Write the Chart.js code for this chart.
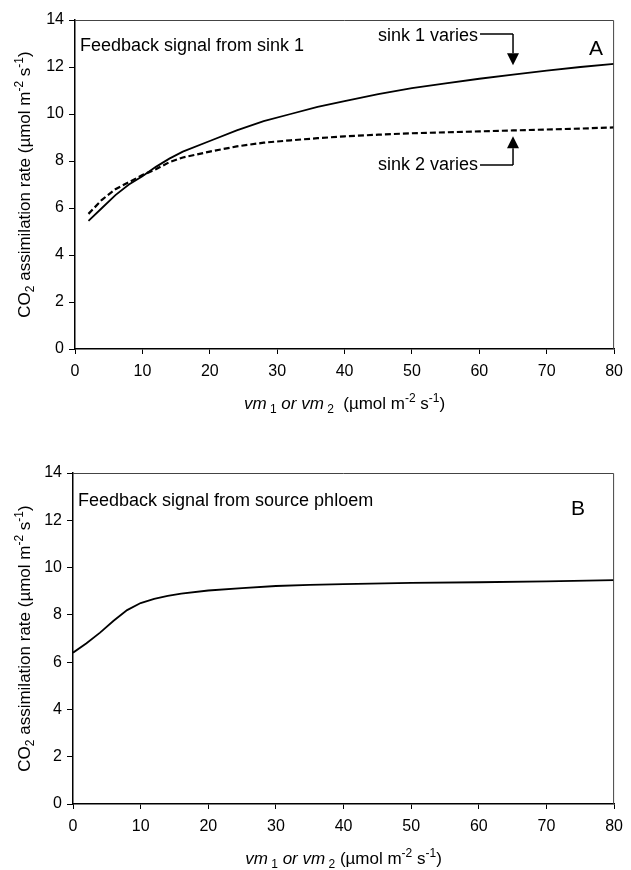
<!DOCTYPE html>
<html>
<head>
<meta charset="utf-8">
<script src="https://cdn.jsdelivr.net/npm/chart.js@4.4.0/dist/chart.umd.min.js"></script>
<style>
  body { margin: 0; background: #fff; }
  .panel { position: absolute; left: 0; width: 631px; height: 435px; }
</style>
</head>
<body>
<div class="panel" style="top:0"><canvas id="chartA" width="631" height="435"></canvas></div>
<div class="panel" style="top:435px"><canvas id="chartB" width="631" height="435"></canvas></div>
<script>
// panel A: feedback signal from sink 1
const xA = [2, 4, 6, 8, 10, 12, 14, 16, 20, 24, 28, 32, 36, 40, 45, 50, 55, 60, 65, 70, 75, 80];
const sink1Varies = [5.45, 6.0, 6.55, 7.0, 7.35, 7.75, 8.1, 8.4, 8.85, 9.3, 9.7, 10.0, 10.3, 10.55, 10.85, 11.1, 11.3, 11.5, 11.68, 11.85, 12.0, 12.13];
const sink2Varies = [5.75, 6.35, 6.8, 7.1, 7.4, 7.65, 7.95, 8.15, 8.4, 8.62, 8.78, 8.88, 8.97, 9.05, 9.12, 9.18, 9.22, 9.26, 9.3, 9.34, 9.38, 9.43];

// panel B: feedback signal from source phloem
const xB = [0, 2, 4, 6, 8, 10, 12, 14, 16, 20, 25, 30, 35, 40, 50, 60, 70, 80];
const phloem = [6.4, 6.8, 7.25, 7.75, 8.2, 8.5, 8.68, 8.8, 8.9, 9.03, 9.13, 9.22, 9.27, 9.3, 9.35, 9.38, 9.42, 9.47];

const yTicks = [0, 2, 4, 6, 8, 10, 12, 14];
const xTicks = [0, 10, 20, 30, 40, 50, 60, 70, 80];

const FONT = '"Liberation Sans", Arial, sans-serif';

function toPoints(xs, ys) {
    return xs.map((x, i) => ({ x: x, y: ys[i] }));
}

function fontFor(p, size) {
    const s = (p.sup || p.sub) ? Math.round(size * 0.68) : size;
    return (p.it ? 'italic ' : '') + s + 'px ' + FONT;
}

// draw text with sub/superscripts, centred on x
function drawRich(ctx, parts, x, y, size) {
    let total = 0;
    parts.forEach(p => { ctx.font = fontFor(p, size); total += ctx.measureText(p.t).width; });
    let cx = x - total / 2;
    ctx.textAlign = 'left';
    ctx.textBaseline = 'alphabetic';
    parts.forEach(p => {
        ctx.font = fontFor(p, size);
        const dy = p.sup ? -size * 0.42 : (p.sub ? size * 0.22 : 0);
        ctx.fillText(p.t, cx, y + dy);
        cx += ctx.measureText(p.t).width;
    });
}

const yTitle = [
    { t: 'CO' }, { t: '2', sub: true }, { t: ' assimilation rate (µmol m' },
    { t: '-2', sup: true }, { t: ' s' }, { t: '-1', sup: true }, { t: ')' }
];
function xTitle(gap) {
    return [
        { t: 'vm', it: true }, { t: ' 1', sub: true }, { t: ' or ', it: true },
        { t: 'vm', it: true }, { t: ' 2', sub: true }, { t: gap + '(µmol m' },
        { t: '-2', sup: true }, { t: ' s' }, { t: '-1', sup: true }, { t: ')' }
    ];
}

function arrow(ctx, x, yFrom, yTip) {
    const dir = yTip > yFrom ? 1 : -1;
    const base = yTip - dir * 12;
    ctx.beginPath();
    ctx.moveTo(x, yFrom);
    ctx.lineTo(x, base);
    ctx.stroke();
    ctx.beginPath();
    ctx.moveTo(x - 6, base);
    ctx.lineTo(x + 6, base);
    ctx.lineTo(x, yTip);
    ctx.closePath();
    ctx.fill();
}

const panelPlugin = {
    id: 'panel',
    afterDraw(chart) {
        const o = chart.options.plugins.panel;
        const ctx = chart.ctx;
        const a = chart.chartArea;
        const xs = chart.scales.x;
        const ys = chart.scales.y;
        ctx.save();
        // frame top / right
        ctx.strokeStyle = '#444';
        ctx.lineWidth = 1;
        ctx.beginPath();
        ctx.moveTo(a.left, a.top + 0.5);
        ctx.lineTo(a.right - 0.5, a.top + 0.5);
        ctx.lineTo(a.right - 0.5, a.bottom);
        ctx.stroke();

        ctx.fillStyle = '#000';
        ctx.strokeStyle = '#000';
        // axis titles
        drawRich(ctx, o.xTitle, (a.left + a.right) / 2, o.xTitleY, 17);
        ctx.save();
        ctx.translate(30, (a.top + a.bottom) / 2);
        ctx.rotate(-Math.PI / 2);
        drawRich(ctx, yTitle, 0, 0, 17);
        ctx.restore();

        // panel label text and letter
        ctx.font = '18px ' + FONT;
        ctx.textAlign = 'left';
        ctx.textBaseline = 'alphabetic';
        ctx.fillText(o.label, a.left + 5, a.top + o.labelDy);
        ctx.font = '21px ' + FONT;
        ctx.textAlign = 'center';
        ctx.fillText(o.letter, o.letterX, a.top + o.letterDy);

        // arrows for the varying sinks
        if (o.arrows) {
            ctx.lineWidth = 1.5;
            o.arrows.forEach(ar => {
                const ax = xs.getPixelForValue(ar.x);
                const tip = ys.getPixelForValue(ar.tip);
                const ly = ys.getPixelForValue(ar.lineY);
                ctx.beginPath();
                ctx.moveTo(ax - 33, ly);
                ctx.lineTo(ax, ly);
                ctx.stroke();
                arrow(ctx, ax, ly, tip);
                ctx.font = '18px ' + FONT;
                ctx.textAlign = 'right';
                ctx.textBaseline = 'alphabetic';
                ctx.fillText(ar.text, ax - 35, ly + ar.textDy);
            });
        }
        ctx.restore();
    }
};

function makeChart(id, datasets, geo, panel) {
    return new Chart(document.getElementById(id), {
        type: 'line',
        data: { datasets: datasets },
        options: {
            responsive: false,
            animation: false,
            layout: { padding: { top: geo.top, right: geo.right, left: 0, bottom: 0 } },
            plugins: { legend: { display: false }, tooltip: { enabled: false }, panel: panel },
            elements: { point: { radius: 0 }, line: { tension: 0 } },
            scales: {
                x: {
                    type: 'linear', min: 0, max: 80,
                    afterBuildTicks: s => { s.ticks = xTicks.map(v => ({ value: v })); },
                    afterFit: s => { s.height = geo.xHeight; },
                    grid: { drawOnChartArea: false, drawTicks: true, tickLength: 5, color: '#000', lineWidth: 1 },
                    border: { display: true, color: '#000', width: 1.5 },
                    ticks: { color: '#000', font: { family: FONT, size: 16 }, padding: 8, maxRotation: 0 }
                },
                y: {
                    type: 'linear', min: 0, max: 14,
                    afterBuildTicks: s => { s.ticks = yTicks.map(v => ({ value: v })); },
                    afterFit: s => { s.width = geo.yWidth; },
                    grid: { drawOnChartArea: false, drawTicks: true, tickLength: 6, color: '#000', lineWidth: 1 },
                    border: { display: true, color: '#000', width: 1.5 },
                    ticks: { color: '#000', font: { family: FONT, size: 16 }, padding: 5 }
                }
            }
        },
        plugins: [panelPlugin]
    });
}

makeChart('chartA', [
    { label: 'sink 1 varies', data: toPoints(xA, sink1Varies), borderColor: '#000', borderWidth: 1.8 },
    { label: 'sink 2 varies', data: toPoints(xA, sink2Varies), borderColor: '#000', borderWidth: 2.2, borderDash: [6, 3] }
], { top: 20, right: 12, yWidth: 75, xHeight: 86 }, {
    label: 'Feedback signal from sink 1', labelDy: 31,
    letter: 'A', letterX: 596, letterDy: 35,
    xTitle: xTitle('  '), xTitleY: 409,
    arrows: [
        { text: 'sink 1 varies', x: 65, lineY: 13.4, tip: 12.07, textDy: 7 },
        { text: 'sink 2 varies', x: 65, lineY: 7.83, tip: 9.05, textDy: 5 }
    ]
});

makeChart('chartB', [
    { label: 'source phloem', data: toPoints(xB, phloem), borderColor: '#000', borderWidth: 1.8 }
], { top: 38, right: 14, yWidth: 73, xHeight: 66 }, {
    label: 'Feedback signal from source phloem', labelDy: 33,
    letter: 'B', letterX: 578, letterDy: 42,
    xTitle: xTitle(' '), xTitleY: 429
});
</script>
</body>
</html>
